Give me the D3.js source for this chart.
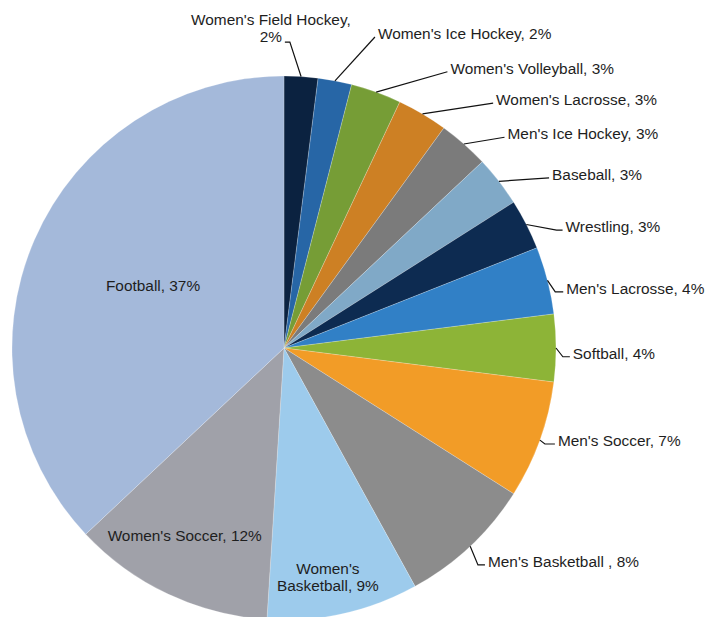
<!DOCTYPE html>
<html>
<head>
<meta charset="utf-8">
<script src="https://cdn.jsdelivr.net/npm/d3@7"></script>
<style>
  body { margin: 0; background: #fff; }
  svg { display: block; }
  .lbl { font-family: "Liberation Sans", Arial, sans-serif; font-size: 15.4px; fill: #1e1e1e; }
</style>
</head>
<body>
<svg id="chart"></svg>
<script>
// Share of athletes by sport, clockwise from 12 o'clock
const sports = ["Women's Field Hockey", "Women's Ice Hockey", "Women's Volleyball", "Women's Lacrosse",
  "Men's Ice Hockey", "Baseball", "Wrestling", "Men's Lacrosse", "Softball", "Men's Soccer",
  "Men's Basketball ", "Women's Basketball", "Women's Soccer", "Football"];
const shares = [2, 2, 3, 3, 3, 3, 3, 4, 4, 7, 8, 9, 12, 37];

const colors = ['#0b2240', '#2766a6', '#769d36', '#cd8024', '#7b7b7b', '#80a9c7', '#0d2b51',
  '#3180c6', '#8db437', '#f29c27', '#8c8c8c', '#9dcbec', '#a0a1a9', '#a4b9da'];

// Label placement: [radius, angle in degrees clockwise from top]; outside the pie gets a leader
const labelPos = [[306, 1.1], [324, 16.3], [321, 30.6], [322, 40.5], [305, 46.3], [315, 57.3],
  [297, 66.6], [277, 78.3], [279, 91.8], [278, 110.2], [291, 138.2], [234, 169.2], [213, 207.8], [145, 295.4]];
const labelTail = [-5, 0, 0, 0, 0, 0, 6, 8, 7, 10, 7, 0, 0, 0];

const width = 710, height = 617,
  cx = 284, cy = 348,   // pie centre
  radius = 272;

const svg = d3.select('#chart').attr('width', width).attr('height', height);
const g = svg.append('g').attr('transform', 'translate(' + cx + ',' + cy + ')');

const data = sports.map((s, i) => ({ name: s, value: shares[i], color: colors[i], pos: labelPos[i], tail: labelTail[i] }));

const pie = d3.pie().value(d => d.value).sort(null);
const arc = d3.arc().innerRadius(0).outerRadius(radius);
const arcs = pie(data);

g.selectAll('path.slice')
  .data(arcs)
  .enter()
  .append('path')
  .attr('class', 'slice')
  .attr('d', arc)
  .style('fill', d => d.data.color)
  .style('stroke', '#ffffff')
  .style('stroke-opacity', 0.35)
  .style('stroke-width', 0.6);

const rad = deg => deg * Math.PI / 180;

arcs.forEach(d => {
  const [lr, la] = d.data.pos;
  const p = d3.pointRadial(rad(la), lr);
  const text = d.data.name + ', ' + d.data.value + '%';

  if (lr > radius) {
    // leader: rim at mid-angle -> elbow -> short tail
    const mid = (d.startAngle + d.endAngle) / 2;
    const rim = d3.pointRadial(mid, radius);
    const end = [p[0] + d.data.tail, p[1]];
    g.append('path')
      .attr('d', d3.line()([rim, p, end]))
      .style('fill', 'none')
      .style('stroke', '#111')
      .style('stroke-width', 1.2);

    if (d.data.tail < 0) {
      // two-line label centred above the elbow
      const t = g.append('text').attr('class', 'lbl').attr('text-anchor', 'middle');
      t.append('tspan').attr('x', end[0] - 14).attr('y', p[1] - 17).text(d.data.name + ',');
      t.append('tspan').attr('x', end[0] - 14).attr('y', p[1] + 0).text(d.data.value + '%');
    } else {
      g.append('text').attr('class', 'lbl')
        .attr('x', end[0] + 3)
        .attr('y', p[1] + 2)
        .text(text);
    }
  } else if (d.data.name === "Women's Basketball") {
    const t = g.append('text').attr('class', 'lbl').attr('text-anchor', 'middle');
    t.append('tspan').attr('x', p[0]).attr('y', p[1] - 4).text("Women's");
    t.append('tspan').attr('x', p[0]).attr('y', p[1] + 13).text('Basketball, ' + d.data.value + '%');
  } else {
    g.append('text').attr('class', 'lbl')
      .attr('text-anchor', 'middle')
      .attr('x', p[0])
      .attr('y', p[1] + 5)
      .text(text);
  }
});
</script>
</body>
</html>
